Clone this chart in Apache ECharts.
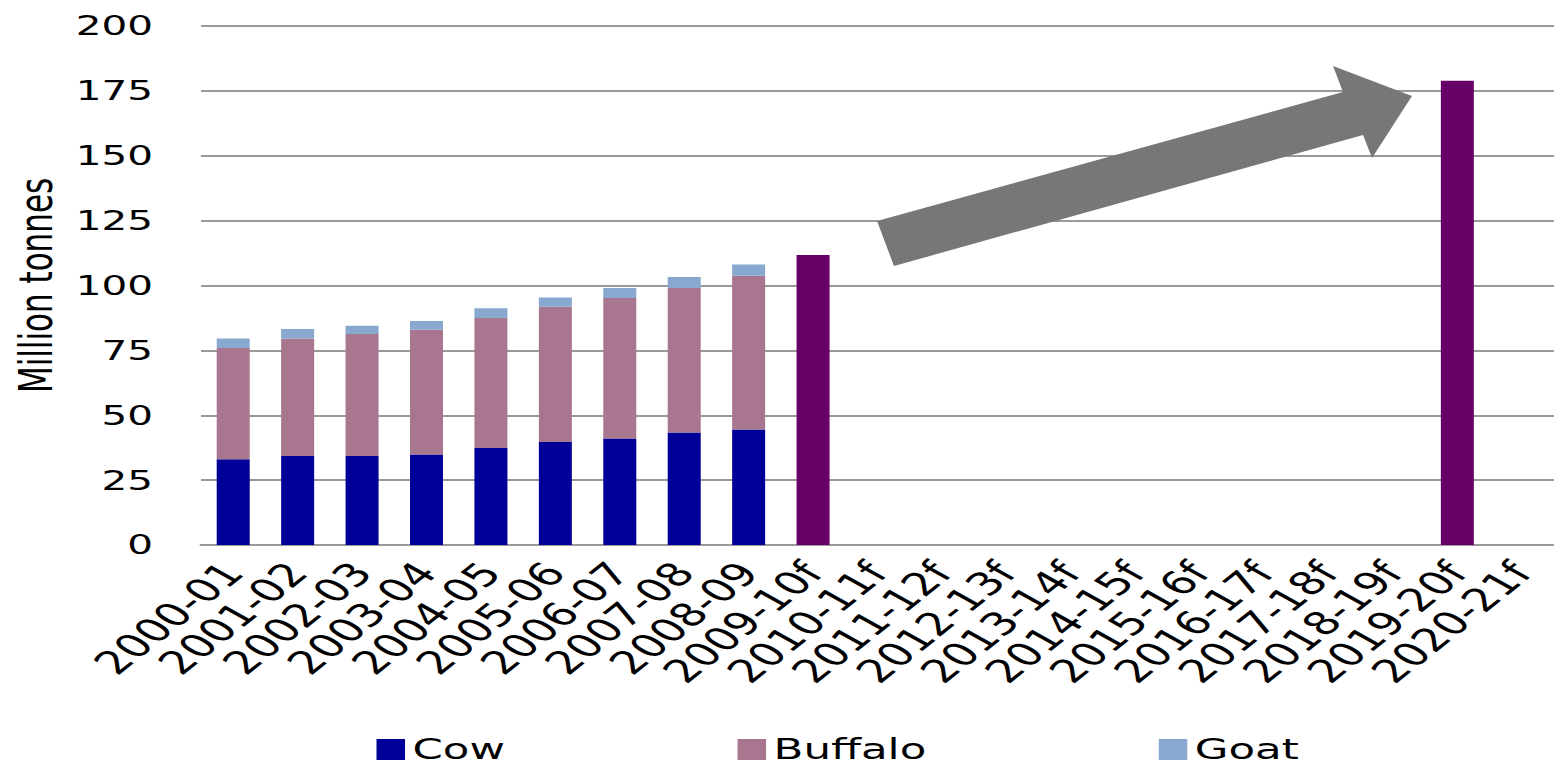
<!DOCTYPE html>
<html>
<head>
<meta charset="utf-8">
<script src="https://cdn.jsdelivr.net/npm/echarts@6/dist/echarts.min.js"></script>
<style>
    html, body { margin: 0; padding: 0; background: #fff; overflow: hidden; }
    /* the reference is stretched sideways ~1.5x, so draw narrow and scale */
    #main { width: 1036px; height: 768px; transform: scaleX(1.5); transform-origin: 0 0; }
</style>
</head>
<body>
<div id="main"></div>
<script type="text/javascript">
    var years = ['2000-01', '2001-02', '2002-03', '2003-04', '2004-05', '2005-06', '2006-07',
        '2007-08', '2008-09', '2009-10f', '2010-11f', '2011-12f', '2012-13f', '2013-14f',
        '2014-15f', '2015-16f', '2016-17f', '2017-18f', '2018-19f', '2019-20f', '2020-21f'];
    var cow = [33.0, 34.3, 34.3, 34.9, 37.4, 39.7, 41.0, 43.4, 44.5];
    var buffalo = [42.9, 45.3, 47.0, 48.0, 50.1, 52.1, 54.2, 55.6, 59.3];
    var goat = [3.7, 3.6, 3.2, 3.4, 3.7, 3.6, 3.8, 4.3, 4.3];
    var forecast = ['-', '-', '-', '-', '-', '-', '-', '-', '-', 111.8,
        '-', '-', '-', '-', '-', '-', '-', '-', '-', 178.9, '-'];
    var yTicks = [0, 25, 50, 75, 100, 125, 150, 175, 200];

    var myChart = echarts.init(document.getElementById('main'), null, { renderer: 'svg' });
    var font = 'DejaVu Sans';

    var option = {
        animation: false,
        textStyle: { fontFamily: font },
        legend: {
            data: ['Cow', 'Buffalo', 'Goat'],
            left: 246,
            top: 730,
            icon: 'rect',
            itemWidth: 19,
            itemHeight: 21,
            itemGap: 155,
            textStyle: { fontSize: 29, color: '#000', fontFamily: font }
        },
        grid: {
            left: 131,
            right: -4,
            top: 26,
            bottom: 223
        },
        xAxis: [{
            type: 'category',
            data: years,
            axisTick: { show: false },
            axisLine: { lineStyle: { color: '#999', width: 2 } },
            axisLabel: {
                interval: 0,
                rotate: 50,
                fontSize: 32,
                color: '#000',
                margin: 22
            }
        }],
        yAxis: [{
            type: 'value',
            min: yTicks[0],
            max: yTicks[yTicks.length - 1],
            interval: 25,
            name: 'Million tonnes',
            nameLocation: 'middle',
            nameGap: 95,
            nameTextStyle: { fontSize: 31, color: '#000', fontFamily: font },
            axisLine: { show: false },
            axisTick: { show: false },
            axisLabel: { fontSize: 27, color: '#000', margin: 32 },
            splitLine: { lineStyle: { color: '#999', width: 2 } }
        }],
        series: [{
            name: 'Cow',
            type: 'bar',
            stack: 'total',
            barWidth: 22,
            data: cow,
            itemStyle: { color: '#000099' }
        }, {
            name: 'Buffalo',
            type: 'bar',
            stack: 'total',
            data: buffalo,
            itemStyle: { color: '#A8768F' }
        }, {
            name: 'Goat',
            type: 'bar',
            stack: 'total',
            data: goat,
            itemStyle: { color: '#88A8D0' }
        }, {
            name: 'Forecast',
            type: 'bar',
            stack: 'total',
            data: forecast,
            itemStyle: { color: '#660066' }
        }],
        graphic: [{
            type: 'polygon',
            shape: {
                points: [[584.7, 221], [596, 266], [908.7, 135], [914.7, 158],
                    [941.3, 96], [888.7, 66], [895.3, 92]]
            },
            style: { fill: '#777777' },
            z: 10
        }]
    };
    myChart.setOption(option);
</script>
</body>
</html>
